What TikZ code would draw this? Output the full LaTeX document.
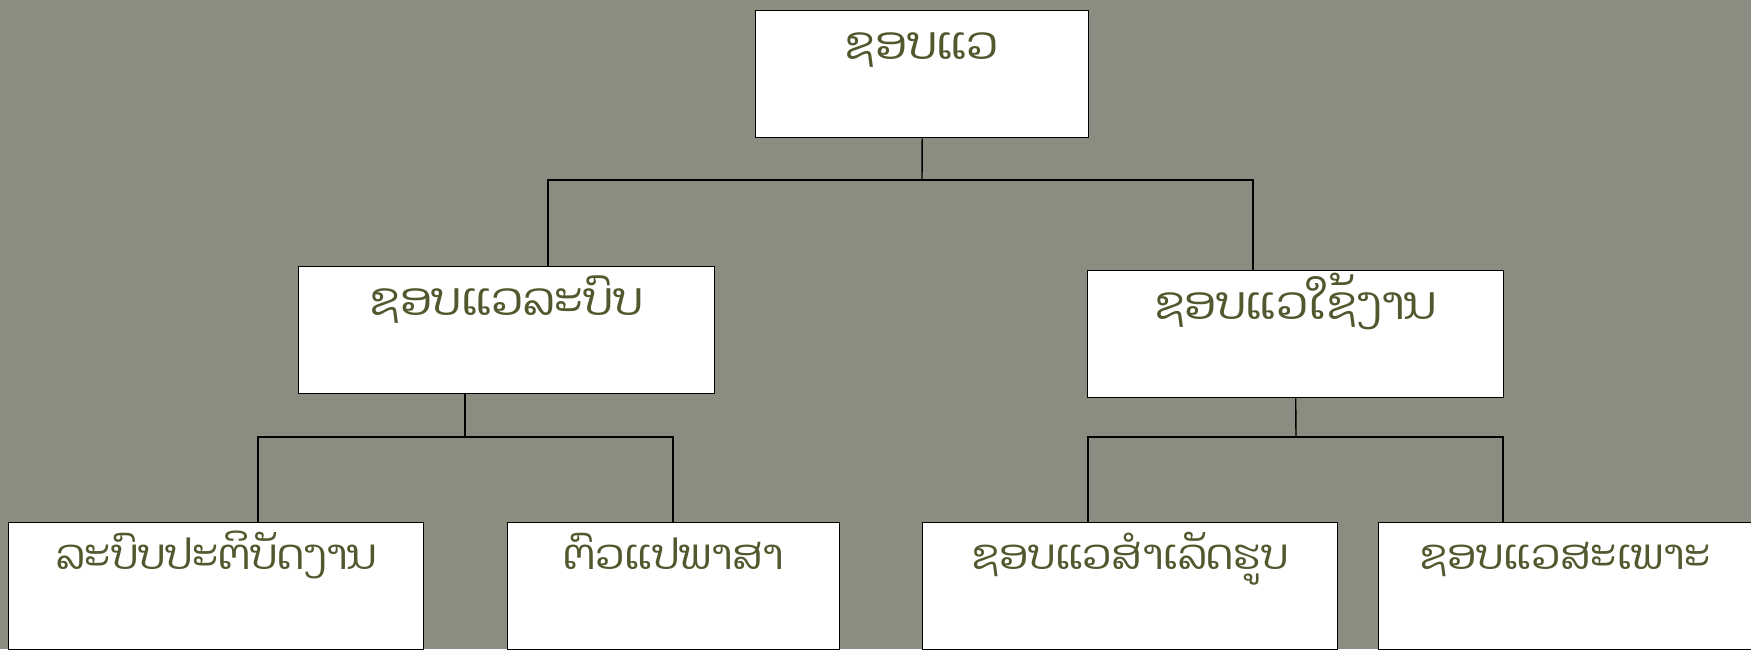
\documentclass[tikz,border=0pt]{standalone}
\usepackage{fontspec}
\newfontfamily\laofont[Script=Lao]{Dhyana}
\definecolor{bgcol}{RGB}{138,142,128}
\definecolor{txtcol}{RGB}{79,89,45}
\begin{document}
\begin{tikzpicture}[x=1pt,y=-1pt,
  box/.style={draw=black, line width=1.4pt, fill=white, inner sep=0pt,
    text=txtcol, font=\laofont\fontsize{46}{54}\selectfont,
    text height=49pt, anchor=north west},
  lowbox/.style={box, font=\laofont\fontsize{42}{50}\selectfont,
    text height=47pt, text depth=80pt},
  link/.style={draw=black, line width=1.4pt}]
\useasboundingbox (0,0) rectangle (1751,649);
\clip (0,0) rectangle (1751,649);
\fill[bgcol] (0,0) rectangle (1751,649);
% boxes
\node[box, minimum width=333pt, text depth=78pt] (top) at (755,10) {ຊອບແວ};
\node[box, minimum width=416pt, text depth=78pt] (b2) at (298,266) {ຊອບແວລະບົບ};
\node[box, minimum width=416pt, text depth=78pt] (b3) at (1087,270) {ຊອບແວໃຊ້ງານ};
\node[lowbox, minimum width=415pt] (b4) at (8,522) {ລະບົບປະຕິບັດງານ};
\node[lowbox, minimum width=332pt] (b5) at (507,522) {ຕົວແປພາສາ};
\node[lowbox, minimum width=415pt] (b6) at (922,522) {ຊອບແວສຳເລັດຮູບ};
\node[lowbox, minimum width=374pt] (b7) at (1378,522) {ຊອບແວສະເພາະ};
% junctions
\coordinate (j1) at (922,180);
\coordinate (j2) at (465,437);
\coordinate (j3) at (1296,437);
% connectors
\draw[link] (top.south) -- (j1);
\draw[link] ([xshift=250pt]b2.north west) |- (j1) -| ([xshift=166pt]b3.north west);
\draw[link] ([xshift=167pt]b2.south west) -- (j2);
\draw[link] ([xshift=250pt]b4.north west) |- (j2) -| ([xshift=166pt]b5.north west);
\draw[link] (b3.south) -- (j3);
\draw[link] ([xshift=166pt]b6.north west) |- (j3) -| ([xshift=125pt]b7.north west);
\end{tikzpicture}
\end{document}
